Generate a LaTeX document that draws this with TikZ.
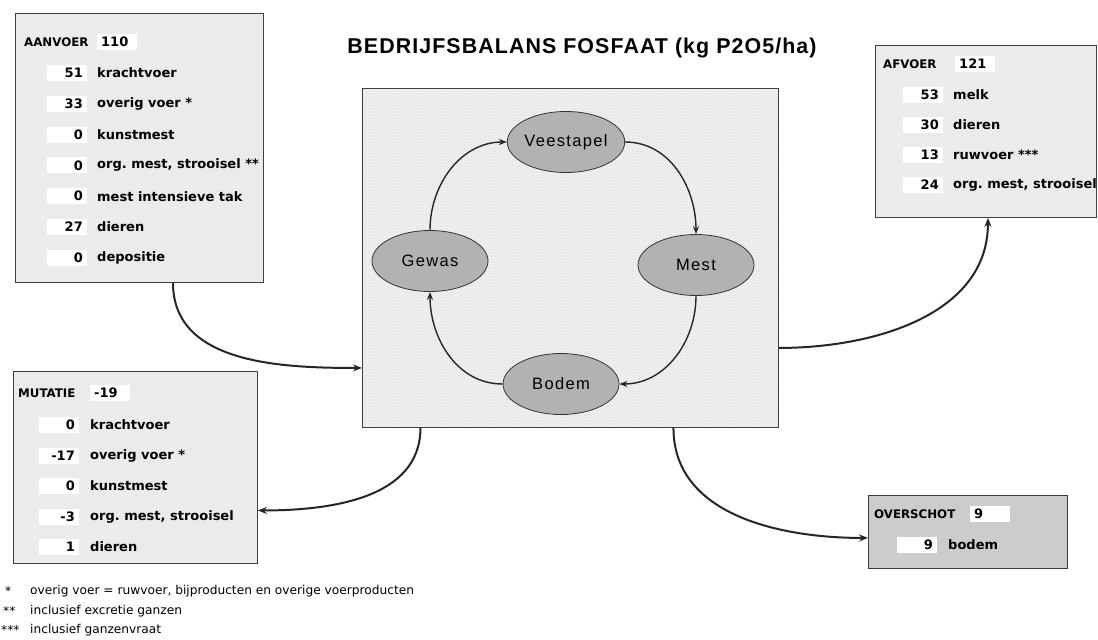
\documentclass[tikz,border=0pt]{standalone}
\usepackage{fontspec}
\setmainfont{DejaVu Sans}
\newfontfamily\titlefont[LetterSpace=5]{Liberation Sans}
\newfontfamily\ellfont[LetterSpace=8]{Liberation Sans}
\usetikzlibrary{shapes.geometric,arrows.meta,patterns}
\frenchspacing

\begin{document}
\begin{tikzpicture}[x=1pt,y=-1pt,
  panel/.style={draw=black!75, line width=0.9pt, fill=black!8, anchor=north west, inner sep=0pt},
  boxfont/.style={font=\bfseries\fontsize{13}{14}\selectfont},
  hdrfont/.style={font=\bfseries\fontsize{11.8}{13}\selectfont},
  numbox/.style={boxfont, fill=white, text width=32pt, align=right, inner xsep=4pt,
                 inner ysep=0pt, minimum height=16pt, anchor=east},
  hdrbox/.style={boxfont, fill=white, text width=32pt, align=left, inner xsep=4pt,
                 inner ysep=0pt, minimum height=16pt, anchor=west},
  itemtext/.style={boxfont, anchor=west, inner sep=0pt},
  hdrtext/.style={hdrfont, anchor=west, inner sep=0pt},
  ell/.style={ellipse, draw=black!80, line width=0.8pt, fill=black!30, inner sep=0pt,
              minimum width=116pt, minimum height=61pt,
              font=\ellfont\fontsize{16.5}{18}\selectfont},
  cycle/.style={draw=black!85, line width=1.4pt, -{Stealth[length=8pt,width=6pt]}},
  flow/.style={draw=black!85, line width=2pt, -{Stealth[length=9pt,width=7pt]}},
  note/.style={anchor=west, inner sep=0pt, font=\fontsize{12.2}{13}\selectfont}
]
\useasboundingbox (0,0) rectangle (1098,640);
\fill[white] (0,0) rectangle (1098,640);

% title
\node[font=\titlefont\bfseries\fontsize{21.4}{24}\selectfont] (title) at (582,48)
  {BEDRIJFSBALANS FOSFAAT (kg P2O5/ha)};

% central cycle panel
\node[panel, fill=black!3, minimum width=416pt, minimum height=339pt] (centre) at (362,88) {};
\fill[pattern=north east lines, pattern color=black!10] (centre.north west) rectangle (centre.south east);
\fill[pattern=north west lines, pattern color=black!10] (centre.north west) rectangle (centre.south east);
\draw[black!75, line width=0.9pt] (centre.north west) rectangle (centre.south east);

\node[ell] (vee)   at (566,142) {Veestapel};
\node[ell] (gewas) at (430,261) {Gewas};
\node[ell] (mest)  at (696,265) {Mest};
\node[ell] (bodem) at (561,384) {Bodem};

\draw[cycle] (gewas.north) to[out=90,in=180] (vee.west);
\draw[cycle] (vee.east) to[out=0,in=90] (mest.north);
\draw[cycle] (mest.south) to[out=-90,in=0] (bodem.east);
\draw[cycle] (bodem.west) to[out=180,in=-90] (gewas.south);

% AANVOER panel
\node[panel, minimum width=248pt, minimum height=269pt] (aanvoer) at (15,13) {};
\node[hdrtext] (aanvoer-h) at (24,42) {AANVOER};
\node[hdrbox] (aanvoer-v) at (97,42) {110};
\foreach \v/\t [count=\i] in {51/krachtvoer, 33/{overig voer *}, 0/kunstmest,
    0/{org. mest, strooisel **}, 0/{mest intensieve tak}, 27/dieren, 0/depositie} {
  \node[numbox] (aanvoer-n\i) at (87,{73+30.8*(\i-1)}) {\v};
  \node[itemtext] (aanvoer-t\i) at (97,{73+30.8*(\i-1)}) {\t};
}

% AFVOER panel
\node[panel, minimum width=221pt, minimum height=172pt] (afvoer) at (875,45) {};
\node[hdrtext] (afvoer-h) at (883,64) {AFVOER};
\node[hdrbox] (afvoer-v) at (955,64) {121};
\foreach \v/\t [count=\i] in {53/melk, 30/dieren, 13/{ruwvoer ***}, 24/{org. mest, strooisel}} {
  \node[numbox] (afvoer-n\i) at (943,{95+30*(\i-1)}) {\v};
  \node[itemtext] (afvoer-t\i) at (953,{95+30*(\i-1)}) {\t};
}

% MUTATIE panel
\node[panel, minimum width=244pt, minimum height=192pt] (mutatie) at (13,371) {};
\node[hdrtext] (mutatie-h) at (18,393) {MUTATIE};
\node[hdrbox] (mutatie-v) at (90,393) {-19};
\foreach \v/\t [count=\i] in {0/krachtvoer, -17/{overig voer *}, 0/kunstmest,
    -3/{org. mest, strooisel}, 1/dieren} {
  \node[numbox] (mutatie-n\i) at (79,{425+30.5*(\i-1)}) {\v};
  \node[itemtext] (mutatie-t\i) at (90,{425+30.5*(\i-1)}) {\t};
}

% OVERSCHOT panel
\node[panel, fill=black!20, minimum width=199pt, minimum height=73pt] (overschot) at (868,495) {};
\node[hdrtext] (overschot-h) at (874,514) {OVERSCHOT};
\node[hdrbox] (overschot-v) at (970,514) {9};
\node[numbox] (overschot-n1) at (937,545) {9};
\node[itemtext] (overschot-t1) at (948,545) {bodem};

% flows between panels
\draw[flow] ([xshift=158pt]aanvoer.south west) to[out=-90,in=180] ([yshift=-110pt]centre.west);
\draw[flow] ([yshift=-90pt]centre.east) to[out=0,in=-90] ([xshift=2pt]afvoer.south);
\draw[flow] ([xshift=-150pt]centre.south) to[out=-90,in=0] ([yshift=-43pt]mutatie.east);
\draw[flow] ([xshift=103pt]centre.south) to[out=-90,in=180] ([yshift=-6pt]overschot.west);

% footnotes
\node[note] (fn1s) at (5,591) {*};
\node[note] (fn1) at (30,591) {overig voer = ruwvoer, bijproducten en overige voerproducten};
\node[note] (fn2s) at (3,611) {**};
\node[note] (fn2) at (30,611) {inclusief excretie ganzen};
\node[note] (fn3s) at (1,630) {***};
\node[note] (fn3) at (30,630) {inclusief ganzenvraat};
\end{tikzpicture}
\end{document}
